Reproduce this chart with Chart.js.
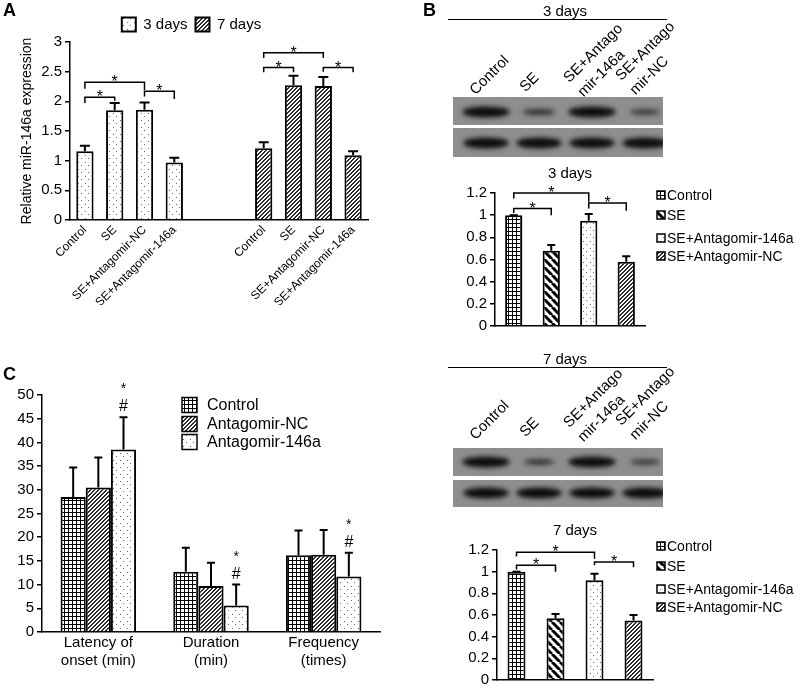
<!DOCTYPE html>
<html>
<head>
<meta charset="utf-8">
<script src="https://cdn.jsdelivr.net/npm/chart.js@4.4.1/dist/chart.umd.min.js"></script>
<style>
  body { margin: 0; background: #fff; }
  #page { position: relative; width: 800px; height: 692px; overflow: hidden; background: #fff;
          font-family: "Liberation Sans", Arial, sans-serif; color: #000; }
  canvas { position: absolute; }
  .letter { position: absolute; font-weight: bold; font-size: 18px; }
  .head { position: absolute; font-size: 15px; width: 220px; text-align: center; }
  .rule { position: absolute; height: 0; border-top: 1.5px solid #000; }
  .lane { position: absolute; font-size: 15px; line-height: 20px; white-space: nowrap;
          transform-origin: left bottom; transform: rotate(-45deg); }
</style>
</head>
<body>
<div id="page">
  <canvas id="blots" width="800" height="692" style="left:0;top:0"></canvas>
  <canvas id="chartA" width="400" height="305" style="left:0;top:0;width:400px;height:305px"></canvas>
  <canvas id="chartB3" width="400" height="175" style="left:400px;top:163px;width:400px;height:175px"></canvas>
  <canvas id="chartB7" width="400" height="174" style="left:400px;top:518px;width:400px;height:174px"></canvas>
  <canvas id="chartC" width="400" height="352" style="left:0;top:340px;width:400px;height:352px"></canvas>
  <div class="letter" style="left:3px;top:0px">A</div>
  <div class="letter" style="left:423px;top:0px">B</div>
  <div class="letter" style="left:3px;top:364px">C</div>
  <div class="head" style="left:455px;top:2px">3 days</div>
  <div class="rule" style="left:448px;top:19px;width:219px"></div>
  <div class="head" style="left:455px;top:350px">7 days</div>
  <div class="rule" style="left:448px;top:367px;width:219px"></div>
</div>
<script>
// ---- data ----
const groupLabels = ['Control', 'SE', 'SE+Antagomir-NC', 'SE+Antagomir-146a'];
const day3Expr = [1.16, 1.85, 1.86, 0.97];
const day3Err = [0.09, 0.12, 0.12, 0.08];
const day7Expr = [1.21, 2.27, 2.26, 1.09];
const day7Err = [0.10, 0.16, 0.15, 0.07];
const exprTicks = [0, 0.5, 1, 1.5, 2, 2.5, 3];

const westernGroups = ['Control', 'SE', 'SE+Antagomir-146a', 'SE+Antagomir-NC'];
const protein3d = [1.0, 0.68, 0.95, 0.58];
const protein3dErr = [0, 0.05, 0.06, 0.05];
const protein7d = [1.0, 0.57, 0.92, 0.55];
const protein7dErr = [0, 0.04, 0.06, 0.05];
const proteinTicks = [0, 0.2, 0.4, 0.6, 0.8, 1, 1.2];

const seizureCats = [['Latency of', 'onset (min)'], ['Duration', '(min)'], ['Frequency', '(times)']];
const seizureGroups = ['Control', 'Antagomir-NC', 'Antagomir-146a'];
const ctrlSeizure = [28.5, 12.7, 16.2];
const ctrlSeizureErr = [6.2, 5.1, 5.2];
const ncSeizure = [30.5, 9.7, 16.3];
const ncSeizureErr = [6.3, 4.9, 5.2];
const antSeizure = [38.5, 5.6, 11.7];
const antSeizureErr = [6.8, 4.4, 5.0];
const seizureTicks = [0, 5, 10, 15, 20, 25, 30, 35, 40, 45, 50];

const laneLabels = ['Control', 'SE', 'SE+Antago<br>mir-146a', 'SE+Antago<br>mir-NC'];
const bandUpper3d = [1, 0.4, 1, 0.3];
const bandUpper7d = [1, 0.35, 1, 0.3];
const bandLoading = [1, 1, 1, 1];

const FONT = '"Liberation Sans", Arial, sans-serif';
Chart.defaults.font.family = FONT;
Chart.defaults.color = '#000';
Chart.defaults.animation = false;

// fill patterns like the original figure
function makePattern(kind) {
    const s = { grid: 4, dots: 7, hatch: 4, stripes: 8 }[kind];
    const c = document.createElement('canvas');
    c.width = c.height = s;
    const g = c.getContext('2d');
    g.fillStyle = '#fff';
    g.fillRect(0, 0, s, s);
    if (kind === 'grid') {
        g.fillStyle = '#000';
        g.fillRect(0, 0, s, 1);
        g.fillRect(0, 0, 1, s);
    } else if (kind === 'dots') {
        g.fillStyle = '#666';
        g.fillRect(1, 1, 1, 1);
        g.fillRect(4, 4, 1, 1);
    } else if (kind === 'hatch') {
        // fine "/" hatch, drawn pixel by pixel
        g.fillStyle = '#2a2a2a';
        for (let i = 0; i < s; i++) {
            g.fillRect(i, s - 1 - i, 1, 1);
            g.fillRect(i, (s - i) % s, 1, 1);
        }
    } else {
        g.strokeStyle = '#000';
        g.lineWidth = 3;
        g.beginPath();
        for (const k of [-s, 0, s]) { g.moveTo(k, 0); g.lineTo(k + s, s); }
        g.stroke();
    }
    return g.createPattern(c, 'repeat');
}
const P = { grid: makePattern('grid'), dots: makePattern('dots'), hatch: makePattern('hatch'), stripes: makePattern('stripes') };

// error bars (upper only, with cap)
const errorBars = {
    id: 'errorBars',
    afterDatasetsDraw(chart, args, opts) {
        const ctx = chart.ctx, y = chart.scales.y;
        chart.data.datasets.forEach((ds, di) => {
            if (!ds.errorPlus) return;
            chart.getDatasetMeta(di).data.forEach((bar, i) => {
                const v = ds.data[i], e = ds.errorPlus[i];
                if (v == null || e == null) return;
                const top = y.getPixelForValue(v + e);
                ctx.save();
                ctx.strokeStyle = '#000';
                ctx.lineWidth = 2;
                ctx.beginPath();
                ctx.moveTo(bar.x, bar.y);
                ctx.lineTo(bar.x, top);
                ctx.moveTo(bar.x - opts.cap, top);
                ctx.lineTo(bar.x + opts.cap, top);
                ctx.stroke();
                ctx.restore();
            });
        });
    }
};

// significance brackets and marks
const brackets = {
    id: 'brackets',
    afterDatasetsDraw(chart, args, opts) {
        const ctx = chart.ctx, x = chart.scales.x, y = chart.scales.y;
        ctx.save();
        ctx.strokeStyle = '#000';
        ctx.fillStyle = '#000';
        ctx.lineWidth = 1.5;
        ctx.textAlign = 'center';
        ctx.textBaseline = 'alphabetic';
        (opts.items || []).forEach(b => {
            const x1 = x.getPixelForValue(b.from), x2 = x.getPixelForValue(b.to);
            const yl = y.getPixelForValue(b.level);
            ctx.beginPath();
            ctx.moveTo(x1, y.getPixelForValue(b.left));
            ctx.lineTo(x1, yl);
            ctx.lineTo(x2, yl);
            ctx.lineTo(x2, y.getPixelForValue(b.right));
            ctx.stroke();
            ctx.font = '16px ' + FONT;
            ctx.fillText('*', (x1 + x2) / 2, yl + 5);
        });
        (opts.marks || []).forEach(m => {
            const ds = chart.data.datasets[m.dataset];
            const bar = chart.getDatasetMeta(m.dataset).data[m.index];
            const cap = y.getPixelForValue(ds.data[m.index] + ds.errorPlus[m.index]);
            ctx.font = '16px ' + FONT;
            ctx.fillText('#', bar.x, cap - 6);
            ctx.font = '14px ' + FONT;
            ctx.fillText('*', bar.x, cap - 24);
        });
        ctx.restore();
    }
};

// legend drawn at fixed spots (panels B and C)
const boxLegend = {
    id: 'boxLegend',
    afterDraw(chart, args, opts) {
        if (!opts.items) return;
        const ctx = chart.ctx;
        ctx.save();
        ctx.font = opts.size + 'px ' + FONT;
        ctx.textBaseline = 'middle';
        ctx.textAlign = 'left';
        opts.items.forEach((it, i) => {
            const cy = opts.ys[i];
            ctx.fillStyle = it.fill;
            ctx.fillRect(opts.x, cy - opts.box / 2, opts.box, opts.box);
            ctx.strokeStyle = '#000';
            ctx.lineWidth = 1.5;
            ctx.strokeRect(opts.x, cy - opts.box / 2, opts.box, opts.box);
            ctx.fillStyle = '#000';
            ctx.fillText(it.text, opts.x + opts.box + opts.gap, cy + 1);
        });
        ctx.restore();
    }
};
Chart.register(errorBars, brackets, boxLegend);

function yScale(ticks, size, width) {
    return {
        min: ticks[0], max: ticks[ticks.length - 1],
        afterBuildTicks: s => { s.ticks = ticks.map(v => ({ value: v })); },
        afterFit: s => { s.width = width; },
        ticks: { font: { size: size }, padding: 3, color: '#000', callback: v => String(v) },
        grid: { drawOnChartArea: false, drawTicks: true, tickLength: 5, color: '#000', lineWidth: 1.5 },
        border: { color: '#000', width: 1.5 }
    };
}

// ---- panel A ----
const blank = [null, null];
new Chart(document.getElementById('chartA'), {
    type: 'bar',
    data: {
        labels: [...groupLabels, '', '', ...groupLabels],
        datasets: [
            { label: '3 days', data: [...day3Expr, ...blank, null, null, null, null],
              errorPlus: [...day3Err, ...blank, null, null, null, null],
              backgroundColor: P.dots, borderColor: '#000', borderWidth: 2, grouped: false,
              barPercentage: 0.58, categoryPercentage: 1 },
            { label: '7 days', data: [null, null, null, null, ...blank, ...day7Expr],
              errorPlus: [null, null, null, null, ...blank, ...day7Err],
              backgroundColor: P.hatch, borderColor: '#000', borderWidth: 2, grouped: false,
              barPercentage: 0.58, categoryPercentage: 1 }
        ]
    },
    options: {
        responsive: false,
        devicePixelRatio: 1,
        layout: { padding: { left: 15, right: 32, top: 9, bottom: 0 } },
        scales: {
            x: {
                afterFit: s => { s.height = 85; },
                ticks: { autoSkip: false, minRotation: 45, maxRotation: 45, font: { size: 12 }, padding: 3, color: '#000' },
                grid: { display: false, drawTicks: false },
                border: { color: '#000', width: 1.5 }
            },
            y: Object.assign(yScale(exprTicks, 15, 55), {
                title: { display: true, text: 'Relative miR-146a expression', font: { size: 14 }, color: '#000' }
            })
        },
        plugins: {
            legend: {
                position: 'top',
                labels: { boxWidth: 14, boxHeight: 14, font: { size: 15 }, padding: 8, color: '#000' }
            },
            tooltip: { enabled: false },
            errorBars: { cap: 5 },
            brackets: {
                items: [
                    { from: 0, to: 1, level: 2.07, left: 1.97, right: 2.01 },
                    { from: 0, to: 2, level: 2.32, left: 2.21, right: 2.19 },
                    { from: 2, to: 3, level: 2.17, left: 2.08, right: 2.04 },
                    { from: 6, to: 7, level: 2.57, left: 2.49, right: 2.49 },
                    { from: 6, to: 8, level: 2.82, left: 2.73, right: 2.73 },
                    { from: 8, to: 9, level: 2.57, left: 2.50, right: 2.49 }
                ]
            }
        }
    }
});

// ---- panel B bar charts ----
const westernFills = [P.grid, P.stripes, P.dots, P.hatch];
function westernChart(id, title, values, errs, yWidth, rightPad, titleTop, legendYs, brk) {
    return new Chart(document.getElementById(id), {
        type: 'bar',
        data: {
            labels: westernGroups,
            datasets: [{ data: values, errorPlus: errs, backgroundColor: westernFills,
                         borderColor: '#000', borderWidth: 2, barPercentage: 0.46, categoryPercentage: 1 }]
        },
        options: {
            responsive: false,
            devicePixelRatio: 1,
            layout: { padding: { left: 0, right: rightPad, top: 0, bottom: 0 } },
            scales: {
                x: {
                    afterFit: s => { s.height = 6; },
                    ticks: { display: false },
                    grid: { display: false, drawTicks: false },
                    border: { color: '#000', width: 1.5 }
                },
                y: yScale(proteinTicks, 15, yWidth)
            },
            plugins: {
                legend: { display: false },
                tooltip: { enabled: false },
                title: { display: true, text: title, fullSize: false, color: '#000',
                         font: { size: 15, weight: 'normal' }, padding: { top: titleTop, bottom: 10 } },
                errorBars: { cap: 4 },
                brackets: { items: brk },
                boxLegend: {
                    x: 257, ys: legendYs, box: 8, gap: 2, size: 14,
                    items: westernGroups.map((t, i) => ({ text: t, fill: westernFills[i] }))
                }
            }
        }
    });
}
westernChart('chartB3', '3 days', protein3d, protein3dErr, 95, 155, 2, [32, 52, 75, 93], [
    { from: 0, to: 1, level: 1.06, left: 1.02, right: 1.0 },
    { from: 0, to: 2, level: 1.2, left: 1.15, right: 1.12 },
    { from: 2, to: 3, level: 1.11, left: 1.06, right: 1.04 }
]);
westernChart('chartB7', '7 days', protein7d, protein7dErr, 97, 147, 4, [28, 48, 71, 89], [
    { from: 0, to: 1, level: 1.06, left: 1.02, right: 1.0 },
    { from: 0, to: 2, level: 1.18, left: 1.14, right: 1.12 },
    { from: 2, to: 3, level: 1.09, left: 1.06, right: 1.04 }
]);

// ---- panel C ----
const seizureFills = [P.grid, P.hatch, P.dots];
new Chart(document.getElementById('chartC'), {
    type: 'bar',
    data: {
        labels: seizureCats,
        datasets: [
            { label: seizureGroups[0], data: ctrlSeizure, errorPlus: ctrlSeizureErr, backgroundColor: seizureFills[0] },
            { label: seizureGroups[1], data: ncSeizure, errorPlus: ncSeizureErr, backgroundColor: seizureFills[1] },
            { label: seizureGroups[2], data: antSeizure, errorPlus: antSeizureErr, backgroundColor: seizureFills[2] }
        ].map(d => Object.assign(d, { borderColor: '#000', borderWidth: 2, barPercentage: 1, categoryPercentage: 0.67 }))
    },
    options: {
        responsive: false,
        devicePixelRatio: 1,
        layout: { padding: { left: 0, right: 20, top: 55, bottom: 0 } },
        scales: {
            x: {
                afterFit: s => { s.height = 60; },
                ticks: { font: { size: 15 }, padding: 2, color: '#000' },
                grid: { display: false, drawTicks: false },
                border: { color: '#000', width: 1.5 }
            },
            y: yScale(seizureTicks, 15, 42)
        },
        plugins: {
            legend: { display: false },
            tooltip: { enabled: false },
            errorBars: { cap: 4 },
            brackets: { marks: [0, 1, 2].map(i => ({ dataset: 2, index: i })) },
            boxLegend: {
                x: 182, ys: [65, 84, 102], box: 15, gap: 10, size: 16,
                items: seizureGroups.map((t, i) => ({ text: t, fill: seizureFills[i] }))
            }
        }
    }
});

// ---- western blot images (panel B) ----
const bctx = document.getElementById('blots').getContext('2d');
function drawBlot(top, h, bandY, strengths, heavy) {
    const left = 453, w = 210;
    bctx.fillStyle = '#8e8e8e';
    bctx.fillRect(left, top, w, h);
    strengths.forEach((s, i) => {
        const cx = 486 + i * 53;
        const bw = heavy ? 46 : 22 + 26 * s;
        const bh = heavy ? 11 : 3 + 8 * s;
        bctx.save();
        bctx.beginPath();
        bctx.rect(left, top, w, h);
        bctx.clip();
        bctx.filter = 'blur(2.5px)';
        bctx.fillStyle = 'rgba(12,12,12,' + (0.55 + 0.45 * s) + ')';
        bctx.beginPath();
        bctx.ellipse(cx, bandY, bw / 2, bh / 2, 0, 0, Math.PI * 2);
        bctx.fill();
        bctx.restore();
    });
}
drawBlot(97, 28, 112, bandUpper3d, false);
drawBlot(128, 29, 143, bandLoading, true);
drawBlot(448, 28, 462, bandUpper7d, false);
drawBlot(480, 27, 493, bandLoading, true);

// lane labels above each blot
const page = document.getElementById('page');
const laneStarts = [[479, 99], [529, 96], [587, 101], [639, 99]];
[0, 345].forEach(dy => {
    laneLabels.forEach((t, i) => {
        const d = document.createElement('div');
        d.className = 'lane';
        d.innerHTML = t;
        d.style.left = laneStarts[i][0] + 'px';
        d.style.bottom = (692 - laneStarts[i][1] - dy) + 'px';
        page.appendChild(d);
    });
});
</script>
</body>
</html>
